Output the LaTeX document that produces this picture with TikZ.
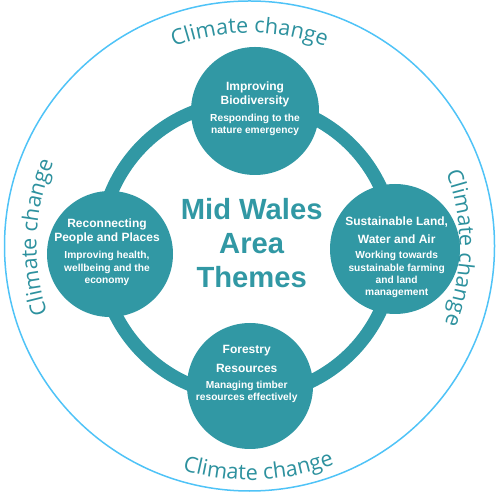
\documentclass[tikz,border=0pt]{standalone}
\usepackage{fontspec}
\setmainfont{Liberation Sans}
\newfontfamily\climfont{Open Sans}
\usetikzlibrary{decorations.text}
\definecolor{teal1}{RGB}{49,152,164}
\definecolor{skyline}{RGB}{79,195,247}
\definecolor{climcol}{RGB}{45,145,158}
\begin{document}
\begin{tikzpicture}[x=1pt,y=1pt,
  theme/.style={circle, fill=teal1, minimum size=#1, inner sep=0pt},
  headline/.style={anchor=base, text=white, font=\bfseries\fontsize{12}{14}\selectfont, inner sep=0pt},
  subline/.style={anchor=base, text=white, font=\bfseries\fontsize{10.2}{12}\selectfont, inner sep=0pt},
  titleline/.style={anchor=base, text=teal1, font=\bfseries\fontsize{29.2}{34}\selectfont, inner sep=0pt},
  climate/.style={decorate, decoration={text along path, text align={align=center}, text color=climcol,
     text={|\climfont\fontsize{21.6}{22}\selectfont|Climate change}}}
]
\useasboundingbox (0,0) rectangle (500,492);
% outer circle
\draw[skyline, line width=1.5] (249.5,246) circle[radius=245];
% ring
\draw[teal1, line width=13.5] (247,243) circle[radius=147];
% theme circles
\node[theme=128] (bio) at (255,381) {};
\node[theme=126] (people) at (110,238) {};
\node[theme=130] (land) at (395,243) {};
\node[theme=126] (forest) at (250,106) {};
% title
\node[titleline] (ti1) at (251.7,272) {Mid Wales};
\node[titleline] (ti2) at (251.7,238) {Area};
\node[titleline] (ti3) at (251.7,204) {Themes};
% top
\node[headline] (bio1) at (255,401.3) {Improving};
\node[headline] (bio2) at (255,387) {Biodiversity};
\node[subline] (bio3) at (255,370) {Responding to the};
\node[subline] (bio4) at (255,358) {nature emergency};
% left
\node[headline] (peo1) at (107,264.3) {Reconnecting};
\node[headline] (peo2) at (107,250) {People and Places};
\node[subline] (peo3) at (107,233) {Improving health,};
\node[subline] (peo4) at (107,220.3) {wellbeing and the};
\node[subline] (peo5) at (107,208) {economy};
% right
\node[headline] (lan1) at (396.7,266.3) {Sustainable Land,};
\node[headline] (lan2) at (396.7,248.7) {Water and Air};
\node[subline] (lan3) at (396.7,233) {Working towards};
\node[subline] (lan4) at (396.7,220.3) {sustainable farming};
\node[subline] (lan5) at (396.7,208) {and land};
\node[subline] (lan6) at (396.7,196) {management};
% bottom
\node[headline] (for1) at (246.7,138.7) {Forestry};
\node[headline] (for2) at (246.7,119.7) {Resources};
\node[subline] (for3) at (246.7,103) {Managing timber};
\node[subline] (for4) at (246.7,91) {resources effectively};
% climate change labels
\path[climate] (249.5,246) ++(135:213) arc[start angle=135, end angle=45, radius=213];
\path[climate] (249.5,246) ++(44.5:210) arc[start angle=44.5, end angle=-45.5, radius=210];
\path[climate] (249.5,246) ++(222.6:213) arc[start angle=222.6, end angle=132.6, radius=213];
\path[climate] (249.5,246) ++(227.3:234) arc[start angle=227.3, end angle=317.3, radius=234];
\end{tikzpicture}
\end{document}
